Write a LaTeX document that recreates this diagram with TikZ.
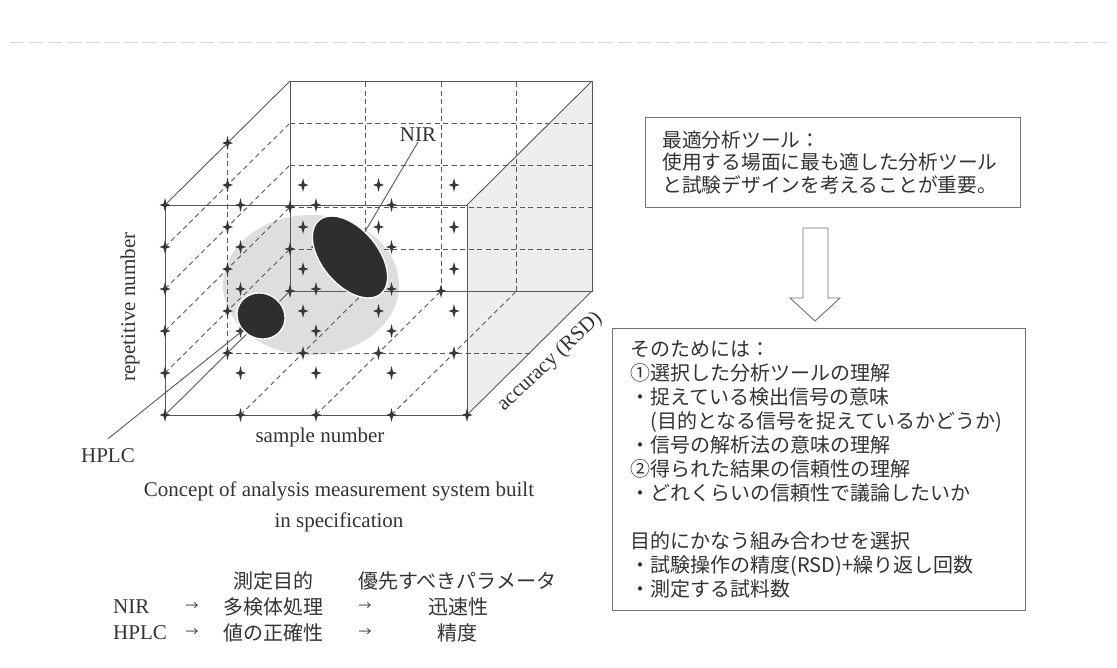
\documentclass[tikz,border=0pt]{standalone}
\usepackage{fontspec}
\setmainfont{Liberation Serif}
\newfontfamily\jp{Noto Sans CJK JP}
\usetikzlibrary{shapes.geometric}
\begin{document}
\begin{tikzpicture}[x=1pt,y=-1pt,
  ln/.style={draw=black!65, line width=0.9pt},
  dsh/.style={draw=black!65, line width=0.9pt, dash pattern=on 5pt off 3.5pt},
  lbl/.style={font=\fontsize{21}{25}\selectfont, text=black!80, inner sep=0pt},
  jtxt/.style={font=\jp\fontsize{20}{24}\selectfont, text=black!80, inner sep=0pt},
  jarr/.style={font=\jp\fontsize{13}{13}\selectfont, text=black!80, inner sep=0pt},
  box/.style={draw=black!55, line width=1pt, align=left, text=black!80, inner ysep=0pt},
  blob/.style={ellipse, fill=black!82, draw=white, line width=1.3pt, inner sep=0pt},
  crs/.pic={\fill[black!78] (0,-7)--(1.4,-1.4)--(5.5,0)--(1.4,1.4)--(0,7)--(-1.4,1.4)--(-5.5,0)--(-1.4,-1.4)--cycle;}
]
\fill[white] (0,0) rectangle (1117,667);
\useasboundingbox (0,0) rectangle (1117,667);
\draw[gray!30, line width=0.8pt, dash pattern=on 14pt off 5pt] (10,42) -- (1110,42);

% lattice of the cube
\foreach \i in {0,...,4}{\foreach \j in {0,...,5}{\foreach \k in {0,1,2}{
  \coordinate (p\i\j\k) at ({165+75.5*\i+62.5*\k},{415-42*\j-62*\k});
}}}

% shading
\fill[gray!13] (p400) -- (p402) -- (p452) -- (p450) -- cycle;
\fill[gray!26] (311,285) ellipse (88 and 70);

% grid
\draw[dsh] foreach \i in {1,2,3} {(p\i02) -- (p\i52)};
\draw[dsh] foreach \j in {1,...,4} {(p0\j2) -- (p4\j2)};
\draw[dsh] foreach \j in {1,...,4} {(p0\j0) -- (p0\j2)};
\draw[dsh] (p001) -- (p051);
\draw[dsh] foreach \i in {1,2,3} {(p\i00) -- (p\i02)};
\draw[dsh] (p001) -- (p401);
\draw[ln] (p000) rectangle (p450);
\draw[ln] (p002) rectangle (p452);
\draw[ln] (p000)--(p002) (p400)--(p402) (p450)--(p452) (p050)--(p052);

% crosses
\foreach \i in {0,...,3}{\foreach \j in {0,...,5}{\pic at (p\i\j0) {crs};}}
\pic at (p400) {crs};
\foreach \j in {0,...,5}{\pic at (p0\j1) {crs};}
\foreach \i in {1,2,3}{\foreach \j in {0,...,4}{\pic at (p\i\j1) {crs};}}
\foreach \n in {p002,p012,p022,p202}{\pic at (\n) {crs};}

% regions
\node[blob, minimum width=96pt, minimum height=56pt, rotate=-50] (bigE) at (350,257) {};
\node[blob, minimum width=49pt, minimum height=45pt, rotate=-30] (smallE) at (261,316) {};

% labels and pointers
\node[lbl] (nir) at (418,135) {NIR};
\draw[ln] (nir.south) -- (bigE);
\node[lbl] (hplc) at (108,456) {HPLC};
\draw[ln] ([yshift=10pt]hplc.north) -- (smallE);
\node[lbl, rotate=90] (rep) at (130,307) {repetitive number};
\node[lbl] (samp) at (320,437) {sample number};
\node[lbl, rotate=43] (acc) at (550,362) {accuracy (RSD)};
\node[lbl, align=center, font=\fontsize{21}{31}\selectfont] (cap) at (339,507)
  {Concept of analysis measurement system built\\in specification};

% table
\node[jtxt] (h1) at (273,581) {測定目的};
\node[jtxt] (h2) at (457,581) {優先すべきパラメータ};
\node[lbl, anchor=west] (r1a) at (113,607) {NIR};
\node[jarr] (r1b) at (192,607) {→};
\node[jtxt] (r1c) at (273,607) {多検体処理};
\node[jarr] (r1d) at (365,607) {→};
\node[jtxt] (r1e) at (458,607) {迅速性};
\node[lbl, anchor=west] (r2a) at (113,633) {HPLC};
\node[jarr] (r2b) at (192,633) {→};
\node[jtxt] (r2c) at (273,633) {値の正確性};
\node[jarr] (r2d) at (365,633) {→};
\node[jtxt] (r2e) at (457,633) {精度};

% right boxes
\node[box, anchor=north west, text width=341pt, inner xsep=17pt, minimum height=90pt,
  font=\jp\fontsize{19.7}{22.5}\selectfont] (b1) at (645,117)
  {最適分析ツール：\\使用する場面に最も適した分析ツール\\と試験デザインを考えることが重要。};
\node[box, anchor=north west, text width=377pt, inner xsep=18pt, minimum height=282pt,
  font=\jp\fontsize{20}{24}\selectfont] (b2) at (612,328)
  {そのためには：\\①選択した分析ツールの理解\\・捉えている検出信号の意味\\\hspace*{1em}(目的となる信号を捉えているかどうか)\\・信号の解析法の意味の理解\\②得られた結果の信頼性の理解\\・どれくらいの信頼性で議論したいか\\[24pt]目的にかなう組み合わせを選択\\・試験操作の精度(RSD)+繰り返し回数\\・測定する試料数};

% hollow arrow
\draw[draw=black!55, line width=0.9pt, fill=white] (803,228) -- (828,228) -- (828,298) -- (840,298) -- (815,321) -- (790,298) -- (803,298) -- cycle;
\end{tikzpicture}
\end{document}
